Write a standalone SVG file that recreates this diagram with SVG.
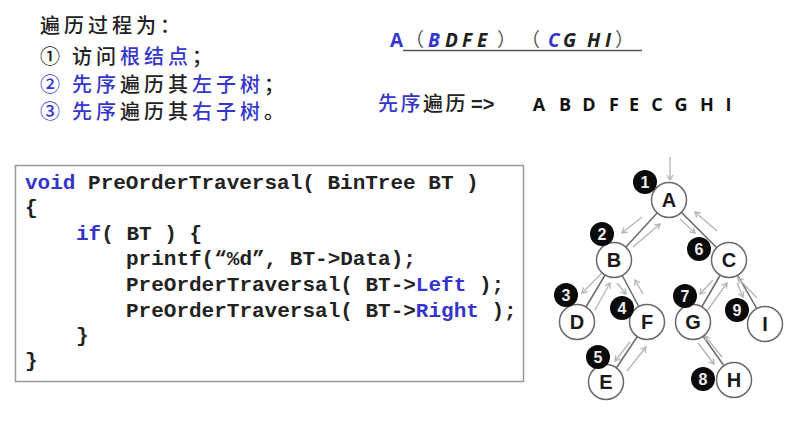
<svg xmlns="http://www.w3.org/2000/svg" width="804" height="425" viewBox="0 0 804 425">
<defs>
<marker id="ah" markerWidth="8" markerHeight="8" refX="6" refY="4" orient="auto" markerUnits="userSpaceOnUse">
<path d="M1,1 L6,4 L1,7" fill="none" stroke="#b5b5b5" stroke-width="1.3"/>
</marker>
</defs>
<style>
.cn{font-family:"Noto Sans CJK SC","Liberation Sans",sans-serif;font-size:20px;font-weight:500;fill:#222;letter-spacing:4px}
.num{letter-spacing:0}
.b{fill:#3535cc}
.seq{font-family:"Open Sans","Liberation Sans",sans-serif;font-size:18px;font-weight:bold;fill:#111;text-anchor:middle}
.it{font-family:"Open Sans","Liberation Sans",sans-serif;font-size:19px;font-weight:bold;font-style:italic;fill:#222}
.par{font-family:"Noto Sans CJK SC",sans-serif;font-weight:normal;font-style:normal;fill:#555}
.code{font-family:"Liberation Mono",monospace;font-size:21px;font-weight:bold;fill:#222;white-space:pre}
.node circle{fill:#fff;stroke:#6a6a6a;stroke-width:1.5}
.node text{font-family:"Liberation Sans",sans-serif;font-size:20px;font-weight:bold;fill:#1a1a1a;text-anchor:middle}
.badge circle{fill:#0a0a0a}
.badge text{font-family:"Liberation Sans",sans-serif;font-size:16px;font-weight:bold;fill:#eee;text-anchor:middle}
.edge{stroke:#6a6a6a;stroke-width:1.5}
.arr{stroke:#b5b5b5;stroke-width:1.3;fill:none;marker-end:url(#ah)}
</style>
<rect width="804" height="425" fill="#fff"/>

<!-- top-left description -->
<g id="steps">
<text class="cn" x="40" y="33">遍历过程为：</text>
<text class="cn" y="64"><tspan class="num" x="40">①</tspan><tspan x="72">访问</tspan><tspan class="b">根结点</tspan><tspan>；</tspan></text>
<text class="cn" y="92"><tspan class="b num" x="40">②</tspan><tspan class="b" x="72">先序</tspan><tspan>遍历其</tspan><tspan class="b">左子树</tspan><tspan>；</tspan></text>
<text class="cn" y="119"><tspan class="b num" x="40">③</tspan><tspan class="b" x="72">先序</tspan><tspan>遍历其</tspan><tspan class="b">右子树</tspan><tspan>。</tspan></text>
</g>

<!-- decomposition -->
<g id="decomp">
<text class="it" y="47"><tspan x="390" class="b" style="font-style:normal">A</tspan><tspan x="405" class="par">（</tspan><tspan x="428" class="b">B</tspan><tspan x="445">D</tspan><tspan x="462">F</tspan><tspan x="477">E</tspan><tspan x="497" class="par">）</tspan><tspan x="521" class="par">（</tspan><tspan x="548" class="b">C</tspan><tspan x="563">G</tspan><tspan x="587">H</tspan><tspan x="605">I</tspan><tspan x="615" class="par">）</tspan></text>
<line x1="403" y1="50.5" x2="642" y2="50.5" stroke="#555" stroke-width="1.5"/>
</g>

<!-- preorder result -->
<g id="result">
<text class="cn" x="378" y="111" style="letter-spacing:2.5px"><tspan class="b">先序</tspan><tspan>遍历</tspan><tspan x="471" style="font-family:'Liberation Sans',sans-serif;font-weight:bold;letter-spacing:0">=&gt;</tspan></text>
<text class="seq" y="111"><tspan x="539">A</tspan><tspan x="565">B</tspan><tspan x="589">D</tspan><tspan x="614">F</tspan><tspan x="634">E</tspan><tspan x="657">C</tspan><tspan x="681">G</tspan><tspan x="707">H</tspan><tspan x="728.5">I</tspan></text>
</g>

<!-- code box -->
<g id="code">
<rect x="15.5" y="165.5" width="508" height="216" fill="#fff" stroke="#9a9a9a" stroke-width="1.5"/>
<text class="code" x="25" y="189"><tspan class="b">void</tspan> PreOrderTraversal( BinTree BT )</text>
<text class="code" x="25" y="214">{</text>
<text class="code" x="76" y="240"><tspan class="b">if</tspan>( BT ) {</text>
<text class="code" x="126" y="265">printf(“%d”, BT-&gt;Data);</text>
<text class="code" x="126" y="291">PreOrderTraversal( BT-&gt;<tspan class="b">Left</tspan> );</text>
<text class="code" x="126" y="317">PreOrderTraversal( BT-&gt;<tspan class="b">Right</tspan> );</text>
<text class="code" x="76" y="342">}</text>
<text class="code" x="25" y="367">}</text>
</g>

<!-- tree edges and traversal arrows -->
<g id="connectors">
<line class="edge" x1="669" y1="200" x2="614" y2="260"/>
<line class="edge" x1="669" y1="200" x2="729" y2="260"/>
<line class="edge" x1="614" y1="260" x2="577" y2="322"/>
<line class="edge" x1="614" y1="260" x2="647" y2="322"/>
<line class="edge" x1="647" y1="322" x2="607" y2="382"/>
<line class="edge" x1="729" y1="260" x2="693" y2="322"/>
<line class="edge" x1="729" y1="260" x2="765" y2="323"/>
<line class="edge" x1="693" y1="322" x2="734" y2="380"/>

<line class="arr" x1="670" y1="157" x2="670" y2="180"/>
<line class="arr" x1="642" y1="217" x2="622" y2="233"/>
<line class="arr" x1="633" y1="247" x2="660" y2="224"/>
<line class="arr" x1="680" y1="219" x2="695" y2="233"/>
<line class="arr" x1="717" y1="231" x2="695" y2="212"/>
<line class="arr" x1="602" y1="273" x2="582" y2="293"/>
<line class="arr" x1="595" y1="310" x2="610" y2="283"/>
<line class="arr" x1="617" y1="283" x2="626" y2="294"/>
<line class="arr" x1="643" y1="294" x2="635" y2="280"/>
<line class="arr" x1="630" y1="342" x2="615" y2="361"/>
<line class="arr" x1="627" y1="371" x2="646" y2="347"/>
<line class="arr" x1="713" y1="280" x2="700" y2="294"/>
<line class="arr" x1="707" y1="311" x2="727" y2="283"/>
<line class="arr" x1="737" y1="283" x2="743" y2="297"/>
<line class="arr" x1="757" y1="298" x2="738" y2="278"/>
<line class="arr" x1="698" y1="343" x2="714" y2="364"/>
<line class="arr" x1="722" y1="357" x2="705" y2="336"/>
</g>

<!-- nodes -->
<g id="node-A" class="node"><circle cx="669" cy="200" r="17.5"/><text x="669" y="207">A</text></g>
<g id="node-B" class="node"><circle cx="614" cy="260" r="17.5"/><text x="614" y="267">B</text></g>
<g id="node-C" class="node"><circle cx="729" cy="260" r="17.5"/><text x="729" y="267">C</text></g>
<g id="node-D" class="node"><circle cx="577" cy="322" r="17.5"/><text x="577" y="329">D</text></g>
<g id="node-F" class="node"><circle cx="647" cy="322" r="17.5"/><text x="647" y="329">F</text></g>
<g id="node-G" class="node"><circle cx="693" cy="322" r="17.5"/><text x="693" y="329">G</text></g>
<g id="node-I" class="node"><circle cx="765" cy="324" r="17.5"/><text x="765" y="331">I</text></g>
<g id="node-E" class="node"><circle cx="606" cy="382" r="17.5"/><text x="606" y="389">E</text></g>
<g id="node-H" class="node"><circle cx="734" cy="380" r="17.5"/><text x="734" y="387">H</text></g>

<!-- visit order badges -->
<g id="badge-1" class="badge"><circle cx="645" cy="182" r="12"/><text x="645" y="188">1</text></g>
<g id="badge-2" class="badge"><circle cx="602" cy="234" r="12"/><text x="602" y="240">2</text></g>
<g id="badge-6" class="badge"><circle cx="699" cy="249" r="12"/><text x="699" y="255">6</text></g>
<g id="badge-3" class="badge"><circle cx="566" cy="295" r="12"/><text x="566" y="301">3</text></g>
<g id="badge-4" class="badge"><circle cx="622" cy="308" r="12"/><text x="622" y="314">4</text></g>
<g id="badge-7" class="badge"><circle cx="685" cy="296" r="12"/><text x="685" y="302">7</text></g>
<g id="badge-9" class="badge"><circle cx="737" cy="310" r="12"/><text x="737" y="316">9</text></g>
<g id="badge-5" class="badge"><circle cx="598" cy="357" r="12"/><text x="598" y="363">5</text></g>
<g id="badge-8" class="badge"><circle cx="703" cy="379" r="12"/><text x="703" y="385">8</text></g>
</svg>
